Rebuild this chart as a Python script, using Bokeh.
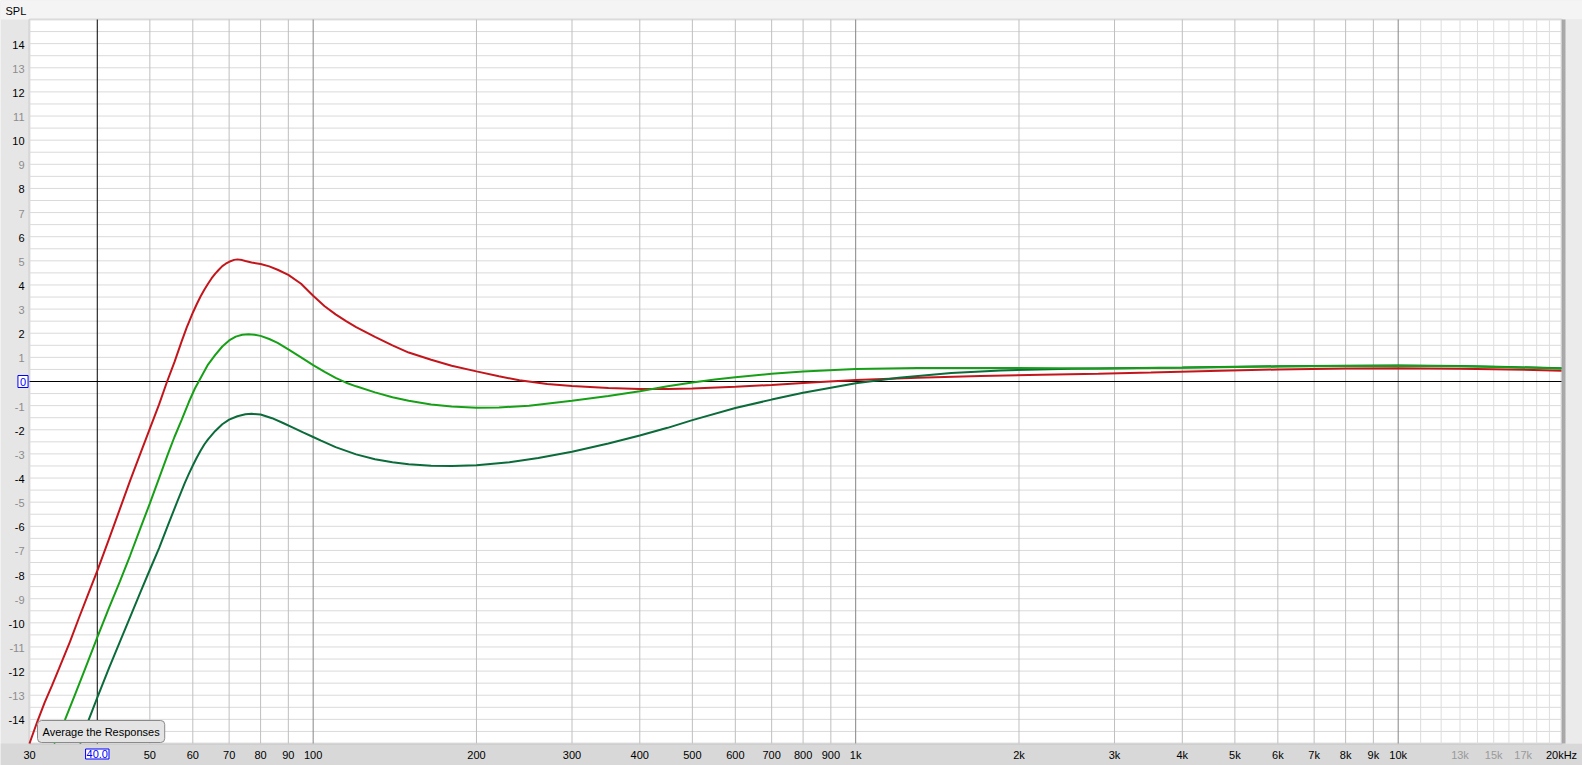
import math
from bokeh.plotting import figure
from bokeh.models import Label, BoxAnnotation, ColumnDataSource, Range1d
from bokeh.core.properties import value
from bokeh.embed import file_html
from bokeh.resources import INLINE

# ---------------- data ----------------
red_f = [30, 31, 32, 33, 34, 35.6, 37, 38.5, 40, 42, 44, 46, 48, 50, 52, 53.8, 55.5, 57.2,
         58.5, 59, 60, 61, 62, 63, 64, 65, 66, 67, 68, 69, 70, 71.5, 72.5, 74, 75, 77, 80,
         83, 86, 90, 95, 100, 105, 110, 115, 120, 130, 140, 150, 165, 180, 200, 220, 240,
         270, 300, 350, 400, 450, 500, 600, 700, 800, 1000, 1300, 1700, 2200, 2800, 3500,
         4500, 6000, 8000, 10000, 13000, 16000, 20000]
red_db = [-15.0, -14.1, -13.3, -12.6, -11.9, -10.8, -9.8, -8.8, -7.85, -6.55, -5.3, -4.1,
          -3.0, -1.95, -0.95, 0.0, 0.8, 1.65, 2.25, 2.45, 2.85, 3.2, 3.52, 3.8, 4.05, 4.28,
          4.47, 4.63, 4.78, 4.88, 4.96, 5.04, 5.06, 5.03, 4.99, 4.93, 4.87, 4.77, 4.63,
          4.42, 4.05, 3.55, 3.12, 2.78, 2.5, 2.25, 1.85, 1.5, 1.2, 0.9, 0.65, 0.42, 0.22,
          0.05, -0.1, -0.19, -0.27, -0.31, -0.31, -0.29, -0.22, -0.14, -0.06, 0.06, 0.16,
          0.23, 0.28, 0.32, 0.37, 0.43, 0.5, 0.54, 0.55, 0.53, 0.5, 0.45]

green_f = [33.3, 34.9, 36.5, 38, 40, 42, 44, 46, 48, 50, 52, 54, 55.5, 57.2, 59, 60.5, 62.2,
           64, 66, 68, 70, 72, 74, 76, 78, 80, 83, 86, 90, 95, 100, 105, 110, 115, 120, 130,
           140, 150, 165, 180, 200, 220, 250, 300, 350, 400, 450, 500, 550, 600, 700, 800,
           1000, 1300, 1800, 2800, 4000, 6000, 8000, 10000, 13000, 16000, 20000]
green_db = [-15.0, -14.0, -12.9, -11.9, -10.6, -9.4, -8.3, -7.2, -6.1, -5.05, -4.0, -3.0,
            -2.3, -1.6, -0.85, -0.3, 0.2, 0.7, 1.1, 1.45, 1.7, 1.86, 1.94, 1.96, 1.94, 1.89,
            1.76, 1.6, 1.33, 1.0, 0.68, 0.4, 0.15, -0.05, -0.2, -0.45, -0.65, -0.8, -0.95,
            -1.04, -1.09, -1.08, -1.0, -0.8, -0.6, -0.4, -0.2, -0.04, 0.08, 0.18, 0.32, 0.41,
            0.52, 0.56, 0.56, 0.54, 0.57, 0.62, 0.64, 0.65, 0.63, 0.59, 0.54]

dkgreen_f = [37.2, 38.6, 40, 42, 44, 46, 48, 50, 52, 54, 56, 58, 59, 60, 61, 62, 63, 64, 66,
             68, 70, 72.5, 75, 77, 80, 84, 88, 92, 96, 100, 103.4, 110, 120, 130, 140, 150,
             165, 180, 200, 230, 260, 300, 350, 400, 450, 500, 600, 700, 800, 900, 1000,
             1200, 1500, 1850, 2500, 4000, 6000, 8000, 10000, 13000, 16000, 20000]
dkgreen_db = [-15.0, -14.0, -13.1, -11.9, -10.8, -9.75, -8.75, -7.8, -6.9, -5.95, -5.05,
              -4.2, -3.83, -3.48, -3.16, -2.87, -2.61, -2.4, -2.05, -1.77, -1.58, -1.44,
              -1.36, -1.34, -1.37, -1.52, -1.72, -1.92, -2.12, -2.3, -2.45, -2.72, -3.02,
              -3.22, -3.35, -3.43, -3.49, -3.5, -3.47, -3.35, -3.17, -2.91, -2.57, -2.24,
              -1.92, -1.6, -1.1, -0.75, -0.47, -0.26, -0.07, 0.16, 0.35, 0.46, 0.53, 0.58,
              0.63, 0.65, 0.66, 0.64, 0.6, 0.55]

x_ticks = [30, 40, 50, 60, 70, 80, 90, 100, 200, 300, 400, 500, 600, 700, 800, 900,
           1000, 2000, 3000, 4000, 5000, 6000, 7000, 8000, 9000, 10000, 13000, 15000,
           17000, 20000]
x_tick_labels = ["30", "40.0", "50", "60", "70", "80", "90", "100", "200", "300", "400",
                 "500", "600", "700", "800", "900", "1k", "2k", "3k", "4k", "5k", "6k",
                 "7k", "8k", "9k", "10k", "13k", "15k", "17k", "20kHz"]
y_ticks = list(range(-14, 15))

grid_mid = [50, 60, 70, 80, 90, 200, 300, 400, 500, 600, 700, 800, 900,
            2000, 3000, 4000, 5000, 6000, 7000, 8000, 9000]
grid_dec = [100, 1000, 10000]
grid_light = [11000, 12000, 13000, 14000, 15000, 16000, 17000, 18000, 19000]
grid_y = [v / 2 for v in range(-29, 30) if v != 0]
cursor_x = 40
cursor_y = 0

F_MIN, F_MAX, DB_MIN, DB_MAX = 30, 20000, -15, 15

# ---------------- layout (canvas pixels) ----------------
W, H = 1582, 765
L, R, T, B = 29, 1561, 19, 743
dec_px = (R - L) / math.log10(F_MAX / F_MIN)
db_px = (B - T) / (DB_MAX - DB_MIN)
x0 = F_MIN / 10 ** (L / dec_px)
x1 = F_MAX * 10 ** ((W - R) / dec_px)
y1 = DB_MAX + T / db_px
y0 = DB_MIN - (H - B) / db_px

FONT_NAME = "Liberation Sans"
FONT = value(FONT_NAME)
FS = "11px"

p = figure(width=W, height=H, x_axis_type="log", x_range=Range1d(x0, x1),
           y_range=Range1d(y0, y1), output_backend="svg", toolbar_location=None,
           x_axis_location=None, y_axis_location=None, min_border=0,
           background_fill_color="#e6e6e6", border_fill_color="#e6e6e6",
           outline_line_color=None)
p.grid.visible = False

# frame strips
p.add_layout(BoxAnnotation(top=DB_MIN, fill_color="#d8d8d8", fill_alpha=1,
                           line_color=None, level="underlay"))
p.add_layout(BoxAnnotation(bottom=DB_MAX, fill_color="#f4f4f4", fill_alpha=1,
                           line_color=None, level="underlay"))
p.add_layout(BoxAnnotation(left=F_MAX, bottom=DB_MIN, top=DB_MAX, fill_color="#ebebeb",
                           fill_alpha=1, line_color=None, level="underlay"))
# right shadow of the plot panel
p.add_layout(BoxAnnotation(left=F_MAX, right=F_MAX * 10 ** (4 / dec_px), bottom=DB_MIN,
                           top=DB_MAX, fill_color="#a9a9a9", fill_alpha=1,
                           line_color=None, level="underlay"))
# plot panel
p.add_layout(BoxAnnotation(left=F_MIN, right=F_MAX, bottom=DB_MIN, top=DB_MAX,
                           fill_color="white", fill_alpha=1, line_color="#9c9c9c",
                           line_width=2, level="underlay"))

# grid
n = len(grid_y)
p.segment(x0=[F_MIN] * n, y0=grid_y, x1=[F_MAX] * n, y1=grid_y, line_color="#dadada",
          line_width=1)
for ticks, col in ((grid_light, "#dddddd"), (grid_mid, "#bfbfbf"), (grid_dec, "#868686")):
    m = len(ticks)
    p.segment(x0=ticks, y0=[DB_MIN] * m, x1=ticks, y1=[DB_MAX] * m, line_color=col,
              line_width=1)
p.segment(x0=[cursor_x], y0=[DB_MIN], x1=[cursor_x], y1=[DB_MAX], line_color="black",
          line_width=1)
p.segment(x0=[F_MIN], y0=[cursor_y], x1=[F_MAX], y1=[cursor_y], line_color="black",
          line_width=1)

# curves
p.line(red_f, red_db, line_color="#c3161c", line_width=2)
p.line(dkgreen_f, dkgreen_db, line_color="#0b6b3a", line_width=2)
p.line(green_f, green_db, line_color="#17a017", line_width=2)

# tick labels
gray_x = {13000, 15000, 17000}
xsrc = ColumnDataSource(dict(
    x=[t for t in x_ticks if t != cursor_x],
    y=[DB_MIN] * (len(x_ticks) - 1),
    text=[l for t, l in zip(x_ticks, x_tick_labels) if t != cursor_x],
    color=["#9a9a9a" if t in gray_x else "#000000" for t in x_ticks if t != cursor_x]))
p.text(x="x", y="y", text="text", source=xsrc, text_color="color", text_font=FONT,
       text_font_size=FS, text_align="center", text_baseline="middle", y_offset=11.5)

ysrc = ColumnDataSource(dict(
    x=[F_MIN] * (len(y_ticks) - 1),
    y=[v for v in y_ticks if v != cursor_y],
    text=[str(v) for v in y_ticks if v != cursor_y],
    color=["#8c8c8c" if v % 2 else "#000000" for v in y_ticks if v != cursor_y]))
p.text(x="x", y="y", text="text", source=ysrc, text_color="color", text_font=FONT,
       text_font_size=FS, text_align="right", text_baseline="middle", x_offset=-5,
       y_offset=1)

# cursor value boxes
p.add_layout(Label(x=cursor_x, y=DB_MIN, y_offset=-10.5,
                   text=x_tick_labels[x_ticks.index(cursor_x)], text_align="center",
                   text_baseline="middle", text_color="#0000ff", text_font=FONT_NAME,
                   text_font_size=FS, background_fill_color="white",
                   border_line_color="#0000ff", padding=1))
p.add_layout(Label(x=F_MIN, y=cursor_y, x_offset=-6.5, text=str(cursor_y),
                   text_align="center", text_baseline="middle", text_color="#0000ff",
                   text_font=FONT_NAME, text_font_size=FS, background_fill_color="white",
                   border_line_color="#0000ff", padding=2))

# axis title
p.add_layout(Label(x=F_MIN, y=DB_MAX, x_offset=-24, y_offset=9, text="SPL",
                   text_align="left", text_baseline="middle", text_color="#000000",
                   text_font=FONT_NAME, text_font_size=FS))

# button
p.add_layout(Label(x=F_MIN, y=DB_MIN, x_offset=8, y_offset=12, text="Average the Responses",
                   text_align="left", text_baseline="middle", text_color="#000000",
                   text_font=FONT_NAME, text_font_size=FS, background_fill_color="#e4e4e4",
                   border_line_color="#8a8a8a", padding=5, border_radius=4))

open("out.html", "w").write(file_html(p, INLINE))
